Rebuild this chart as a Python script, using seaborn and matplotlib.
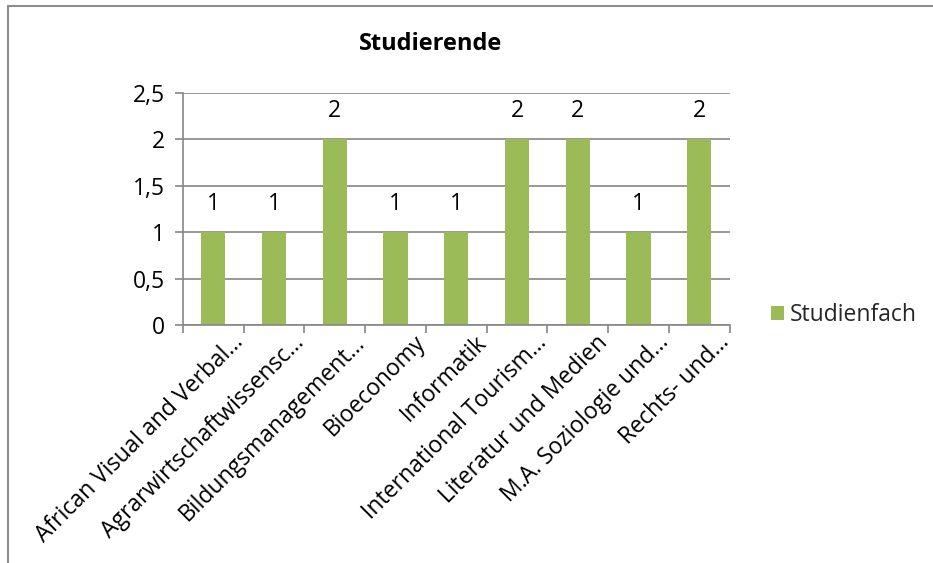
import matplotlib
matplotlib.use("Agg")
import matplotlib.pyplot as plt
from matplotlib.lines import Line2D
from matplotlib.patches import Patch
from matplotlib.ticker import FuncFormatter, FixedLocator
import matplotlib.transforms as mtransforms
import seaborn as sns
import pandas as pd

categories = [
    "African Visual and Verbal...",
    "Agrarwirtschaftwissensc...",
    "Bildungsmanagement...",
    "Bioeconomy",
    "Informatik",
    "International Tourism...",
    "Literatur und Medien",
    "M.A. Soziologie und...",
    "Rechts- und...",
]
counts = [1, 1, 2, 1, 1, 2, 2, 1, 2]
series_name = "Studienfach"
title = "Studierende"
y_ticks = [0, 0.5, 1, 1.5, 2, 2.5]

sns.set_theme(style="white")
plt.rcParams["font.family"] = ["Open Sans", "DejaVu Sans"]

bar_color = "#9BBB59"
grid_color = "#868686"
fs = 16.5

df = pd.DataFrame({"Fach": categories, "Anzahl": counts})

fig = plt.figure(figsize=(9.33, 5.63), dpi=100)
ax = fig.add_axes([0.196, 0.4227, 0.586, 0.4125])

sns.barplot(data=df, x="Fach", y="Anzahl", color=bar_color, width=0.4,
            saturation=1, ax=ax, edgecolor="none")

ax.set_ylim(0, 2.5)
ax.set_xlim(-0.5, len(categories) - 0.5)
ax.yaxis.set_major_locator(FixedLocator(y_ticks))
ax.yaxis.set_major_formatter(
    FuncFormatter(lambda v, _: f"{v:g}".replace(".", ",")))
ax.grid(axis="y", color=grid_color, linewidth=1.2)
ax.set_axisbelow(True)

for side in ("top", "right"):
    ax.spines[side].set_visible(False)
for side in ("left", "bottom"):
    ax.spines[side].set_color(grid_color)
    ax.spines[side].set_linewidth(1.2)

ax.set_xlabel("")
ax.set_ylabel("")
ax.tick_params(axis="y", which="major", length=6, width=1.2, color=grid_color,
               direction="out", left=True, labelsize=fs, pad=7,
               labelcolor="black")

# category labels centered on bars, boundary ticks between categories
ax.set_xticks(range(len(categories)))
ax.set_xticklabels(categories, rotation=45, ha="right",
                   rotation_mode="anchor", fontsize=fs, color="black")
ax.tick_params(axis="x", which="major", length=0, pad=4)
ax.set_xticks([i - 0.5 for i in range(len(categories) + 1)], minor=True)
ax.tick_params(axis="x", which="minor", length=6, width=1.2,
               color=grid_color, direction="out", bottom=True)
offset = mtransforms.ScaledTranslation(18 / 100, 0, fig.dpi_scale_trans)
for lbl in ax.get_xticklabels():
    lbl.set_transform(lbl.get_transform() + offset)

for i, v in enumerate(counts):
    ax.annotate(f"{v}", (i, v), xytext=(0, 20), textcoords="offset points",
                ha="center", va="center", fontsize=fs, color="black")

fig.text(0.461, 0.922, title, ha="center", va="center", fontsize=17,
         fontweight="bold", color="black")

handles = [Patch(facecolor=bar_color, edgecolor="none", label=series_name)]
fig.legend(handles=handles, loc="center left", bbox_to_anchor=(0.826, 0.44),
           frameon=False, fontsize=fs, handlelength=0.6, handleheight=0.6,
           handletextpad=0.25, borderpad=0, borderaxespad=0)

# outer chart border
fig.add_artist(Line2D([0.009, 0.009], [0.0, 0.989], color="#8c8c8c",
                      linewidth=1.5, transform=fig.transFigure))
fig.add_artist(Line2D([0.009, 1.0], [0.989, 0.989], color="#8c8c8c",
                      linewidth=1.5, transform=fig.transFigure))

fig.savefig("out.png", dpi=100, facecolor="white")
